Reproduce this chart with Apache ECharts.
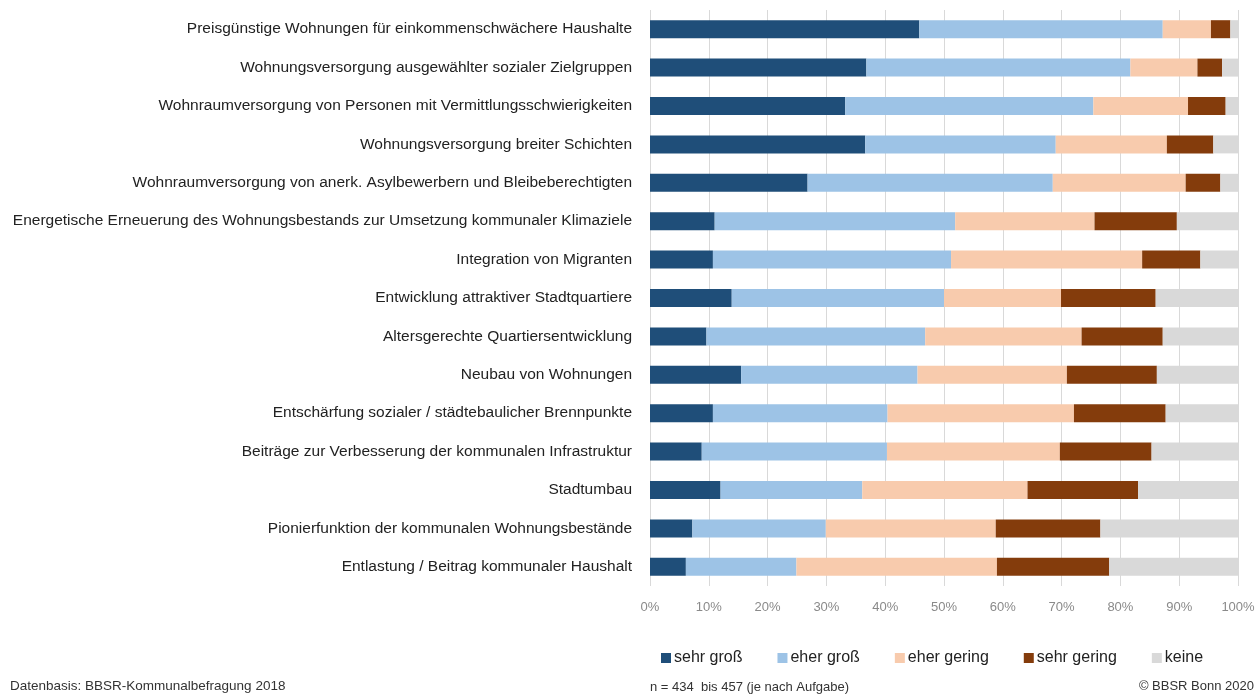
<!DOCTYPE html>
<html><head><meta charset="utf-8">
<script src="https://cdn.jsdelivr.net/npm/echarts@6/dist/echarts.min.js"></script>
<style>html,body{margin:0;padding:0;background:#fff}#c{width:1258px;height:695px}</style>
</head><body><div id="c"></div>
<script>
const categories = [
  "Preisgünstige Wohnungen für einkommenschwächere Haushalte",
  "Wohnungsversorgung ausgewählter sozialer Zielgruppen",
  "Wohnraumversorgung von Personen mit Vermittlungsschwierigkeiten",
  "Wohnungsversorgung breiter Schichten",
  "Wohnraumversorgung von anerk. Asylbewerbern und Bleibeberechtigten",
  "Energetische Erneuerung des Wohnungsbestands zur Umsetzung kommunaler Klimaziele",
  "Integration von Migranten",
  "Entwicklung attraktiver Stadtquartiere",
  "Altersgerechte Quartiersentwicklung",
  "Neubau von Wohnungen",
  "Entschärfung sozialer / städtebaulicher Brennpunkte",
  "Beiträge zur Verbesserung der kommunalen Infrastruktur",
  "Stadtumbau",
  "Pionierfunktion der kommunalen Wohnungsbestände",
  "Entlastung / Beitrag kommunaler Haushalt"
];
const sehrGross  = [45.8, 36.8, 33.2, 36.6, 26.8, 11.0, 10.7, 13.9, 9.6, 15.5, 10.7, 8.8, 12.0, 7.2, 6.1];
const eherGross  = [41.4, 44.9, 42.2, 32.4, 41.7, 40.9, 40.5, 36.1, 37.2, 30.0, 29.7, 31.5, 24.1, 22.7, 18.8];
const eherGering = [8.2, 11.4, 16.1, 18.9, 22.6, 23.7, 32.5, 19.9, 26.6, 25.4, 31.7, 29.4, 28.1, 28.9, 34.1];
const sehrGering = [3.3, 4.2, 6.4, 7.9, 5.9, 14.0, 9.9, 16.1, 13.8, 15.3, 15.6, 15.6, 18.8, 17.8, 19.1];
const keine      = [1.3, 2.7, 2.1, 4.2, 3.0, 10.4, 6.4, 14.0, 12.8, 13.8, 12.3, 14.7, 17.0, 23.4, 21.9];
const seriesNames = ["sehr groß", "eher groß", "eher gering", "sehr gering", "keine"];
const colors = ["#1F4E79", "#9DC3E6", "#F8CBAD", "#843C0C", "#D9D9D9"];
const allData = [sehrGross, eherGross, eherGering, sehrGering, keine];

const chart = echarts.init(document.getElementById('c'), null, {renderer: 'canvas'});
const font = "'Liberation Sans', Arial, sans-serif";
chart.setOption({
  animation: false,
  textStyle: {fontFamily: font},
  grid: {left: 650, right: 20, top: 10, bottom: 109, containLabel: false, outerBoundsMode: 'none'},
  legend: {
    left: 656, top: 645, itemWidth: 10, itemHeight: 10, itemGap: 35,
    icon: 'rect',
    textStyle: {fontSize: 16, color: '#222', fontFamily: font, padding: [0,0,0,-2]},
    data: seriesNames
  },
  xAxis: {
    type: 'value', min: 0, max: 100, interval: 10,
    axisLabel: {formatter: '{value}%', color: '#8a8a8a', fontSize: 13, margin: 15},
    axisLine: {show: false}, axisTick: {show: false},
    splitLine: {lineStyle: {color: '#d9d9d9', width: 1}}
  },
  yAxis: {
    type: 'category', data: categories, inverse: true,
    axisLine: {show: false}, axisTick: {show: false},
    axisLabel: {color: '#222', fontSize: 15.5, margin: 18}
  },
  series: allData.map((d, i) => ({
    name: seriesNames[i], type: 'bar', stack: 'total', data: d,
    barWidth: 18, itemStyle: {color: colors[i]}
  })),
  graphic: [
    {type: 'text', left: 10, top: 679, style: {text: 'Datenbasis: BBSR-Kommunalbefragung 2018', fill: '#333', font: '13.5px ' + font}},
    {type: 'text', left: 650, top: 681, style: {text: 'n = 434  bis 457 (je nach Aufgabe)', fill: '#333', font: '13px ' + font}},
    {type: 'text', right: 4, top: 680, style: {text: '© BBSR Bonn 2020', fill: '#333', font: '13px ' + font}}
  ]
});
</script></body></html>
